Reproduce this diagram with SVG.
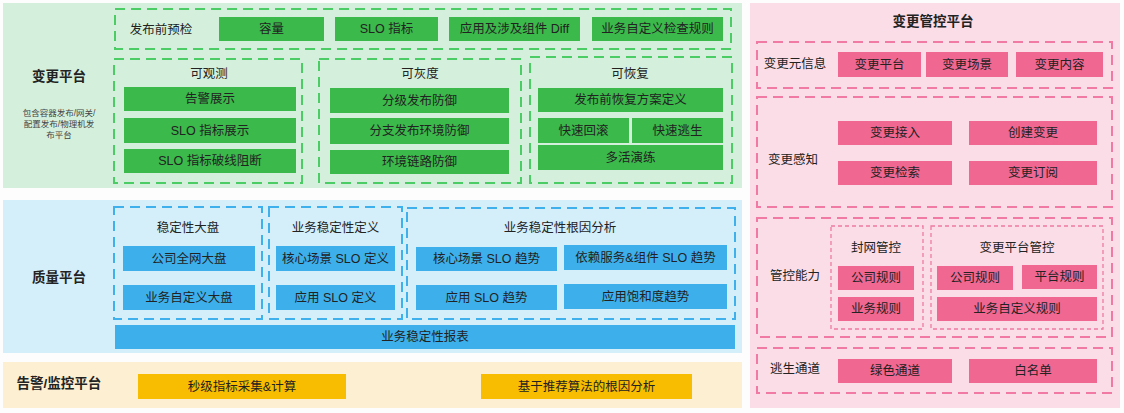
<svg xmlns="http://www.w3.org/2000/svg" width="1124" height="413" viewBox="0 0 1124 413">
<style>
text{font-family:"Liberation Sans","Noto Sans CJK SC",sans-serif;fill:#222;text-anchor:middle;dominant-baseline:central}
.t{font-size:12.5px}
.h{font-size:13.5px;font-weight:bold}
.s{font-size:8.5px;fill:#444}
.gb{fill:#3bb94b}.bb{fill:#3db0ec}.yb{fill:#f8bd00}.pb{fill:#f06792}
.gd{fill:none;stroke:#4ccc65;stroke-width:2;stroke-dasharray:10 6}
.bd{fill:none;stroke:#3fb0ec;stroke-width:2;stroke-dasharray:10 6}
.pd{fill:none;stroke:#f07aa3;stroke-width:2;stroke-dasharray:10 6}
.pt{fill:none;stroke:#f07aa3;stroke-width:1.3;stroke-dasharray:4 3}
</style>
<rect width="1124" height="413" fill="#fdfdfd"/>

<g id="change-platform">
<rect x="3" y="3" width="739" height="185" fill="#d4f0dd"/>
<text class="h" x="59" y="76">变更平台</text>
<text class="s" x="59" y="113">包含容器发布/网关/</text>
<text class="s" x="59" y="124">配置发布/物理机发</text>
<text class="s" x="59" y="135">布平台</text>
</g>
<g id="precheck">
<rect class="gd" x="115" y="9" width="616" height="40"/>
<text class="t" x="161" y="30">发布前预检</text>
<rect class="gb" x="219" y="17" width="105" height="24"/><text class="t" x="271.5" y="29">容量</text>
<rect class="gb" x="335" y="17" width="103" height="24"/><text class="t" x="386.5" y="29">SLO 指标</text>
<rect class="gb" x="449" y="17" width="131" height="24"/><text class="t" x="514.5" y="29">应用及涉及组件 Diff</text>
<rect class="gb" x="592" y="17" width="131" height="24"/><text class="t" x="657.5" y="29">业务自定义检查规则</text>
</g>
<g id="observable">
<rect class="gd" x="114" y="59" width="188" height="124"/>
<text class="t" x="209" y="74">可观测</text>
<rect class="gb" x="124" y="87" width="172" height="24"/><text class="t" x="210" y="99">告警展示</text>
<rect class="gb" x="124" y="118" width="172" height="25"/><text class="t" x="210" y="130.5">SLO 指标展示</text>
<rect class="gb" x="124" y="149" width="172" height="24"/><text class="t" x="210" y="161">SLO 指标破线阻断</text>
</g>
<g id="canary">
<rect class="gd" x="319" y="59" width="202" height="124"/>
<text class="t" x="420" y="74">可灰度</text>
<rect class="gb" x="330" y="88" width="179" height="25"/><text class="t" x="419.5" y="100.5">分级发布防御</text>
<rect class="gb" x="330" y="118" width="179" height="26"/><text class="t" x="419.5" y="131">分支发布环境防御</text>
<rect class="gb" x="330" y="150" width="179" height="24"/><text class="t" x="419.5" y="162">环境链路防御</text>
</g>
<g id="recoverable">
<rect class="gd" x="530" y="57" width="202" height="126"/>
<text class="t" x="630" y="74">可恢复</text>
<rect class="gb" x="538" y="88" width="185" height="24"/><text class="t" x="630.5" y="100">发布前恢复方案定义</text>
<rect class="gb" x="538" y="118" width="91" height="25"/><text class="t" x="583.5" y="130.5">快速回滚</text>
<rect class="gb" x="632" y="118" width="91" height="25"/><text class="t" x="677.5" y="130.5">快速逃生</text>
<rect class="gb" x="538" y="145" width="185" height="25"/><text class="t" x="630.5" y="157.5">多活演练</text>
</g>

<g id="quality-platform">
<rect x="3" y="200" width="739" height="153" fill="#d4eefa"/>
<text class="h" x="59" y="277">质量平台</text>
</g>
<g id="dashboard">
<rect class="bd" x="114" y="207" width="148" height="112"/>
<text class="t" x="188" y="228">稳定性大盘</text>
<rect class="bb" x="123" y="246" width="132" height="25"/><text class="t" x="189" y="258.5">公司全网大盘</text>
<rect class="bb" x="123" y="285" width="132" height="25"/><text class="t" x="189" y="297.5">业务自定义大盘</text>
</g>
<g id="stability-def">
<rect class="bd" x="269" y="207" width="133" height="112"/>
<text class="t" x="335.5" y="228">业务稳定性定义</text>
<rect class="bb" x="276" y="246" width="119" height="25"/><text class="t" x="335.5" y="258.5">核心场景 SLO 定义</text>
<rect class="bb" x="276" y="285" width="119" height="25"/><text class="t" x="335.5" y="297.5">应用 SLO 定义</text>
</g>
<g id="root-cause">
<rect class="bd" x="407" y="208" width="328" height="111"/>
<text class="t" x="560" y="228">业务稳定性根因分析</text>
<rect class="bb" x="416" y="247" width="141" height="24"/><text class="t" x="486.5" y="259">核心场景 SLO 趋势</text>
<rect class="bb" x="564" y="245" width="163" height="25"/><text class="t" x="645.5" y="257.5">依赖服务&amp;组件 SLO 趋势</text>
<rect class="bb" x="416" y="285" width="141" height="25"/><text class="t" x="486.5" y="297.5">应用 SLO 趋势</text>
<rect class="bb" x="564" y="284" width="163" height="25"/><text class="t" x="645.5" y="296.5">应用饱和度趋势</text>
</g>
<g id="report">
<rect class="bb" x="115" y="325" width="620" height="24"/><text class="t" x="425" y="337">业务稳定性报表</text>
</g>

<g id="alert-platform">
<rect x="3" y="362" width="739" height="46" fill="#fdf0d2"/>
<text class="h" x="59" y="383">告警/监控平台</text>
<rect class="yb" x="138" y="374" width="208" height="25"/><text class="t" x="242" y="386.5">秒级指标采集&amp;计算</text>
<rect class="yb" x="481" y="374" width="211" height="25"/><text class="t" x="586.5" y="386.5">基于推荐算法的根因分析</text>
</g>

<g id="change-control">
<rect x="750" y="3" width="370" height="405" fill="#fadde7"/>
<text class="h" x="933" y="21">变更管控平台</text>
</g>
<g id="meta">
<rect class="pd" x="757" y="42" width="355" height="46"/>
<text class="t" x="795" y="64">变更元信息</text>
<rect class="pb" x="838" y="52" width="83" height="25"/><text class="t" x="879.5" y="64.5">变更平台</text>
<rect class="pb" x="926" y="52" width="82" height="25"/><text class="t" x="967" y="64.5">变更场景</text>
<rect class="pb" x="1016" y="52" width="87" height="25"/><text class="t" x="1059.5" y="64.5">变更内容</text>
</g>
<g id="perception">
<rect class="pd" x="757" y="97" width="355" height="110"/>
<text class="t" x="793" y="160">变更感知</text>
<rect class="pb" x="838" y="121" width="114" height="24"/><text class="t" x="895" y="133">变更接入</text>
<rect class="pb" x="969" y="121" width="128" height="24"/><text class="t" x="1033" y="133">创建变更</text>
<rect class="pb" x="838" y="161" width="114" height="24"/><text class="t" x="895" y="173">变更检索</text>
<rect class="pb" x="969" y="161" width="128" height="24"/><text class="t" x="1033" y="173">变更订阅</text>
</g>
<g id="control">
<rect class="pd" x="757" y="218" width="355" height="119"/>
<text class="t" x="795" y="276">管控能力</text>
</g>
<g id="freeze">
<rect class="pt" x="831" y="226" width="92" height="103"/>
<text class="t" x="876" y="248">封网管控</text>
<rect class="pb" x="838" y="266" width="76" height="24"/><text class="t" x="876" y="278">公司规则</text>
<rect class="pb" x="838" y="297" width="76" height="24"/><text class="t" x="876" y="309">业务规则</text>
</g>
<g id="platform-control">
<rect class="pt" x="931" y="226" width="172" height="103"/>
<text class="t" x="1017" y="248">变更平台管控</text>
<rect class="pb" x="937" y="266" width="76" height="24"/><text class="t" x="975" y="278">公司规则</text>
<rect class="pb" x="1022" y="265" width="75" height="24"/><text class="t" x="1059.5" y="277">平台规则</text>
<rect class="pb" x="937" y="297" width="160" height="24"/><text class="t" x="1017" y="309">业务自定义规则</text>
</g>
<g id="escape">
<rect class="pd" x="757" y="348" width="355" height="45"/>
<text class="t" x="795" y="369">逃生通道</text>
<rect class="pb" x="838" y="359" width="114" height="24"/><text class="t" x="895" y="371">绿色通道</text>
<rect class="pb" x="969" y="359" width="128" height="24"/><text class="t" x="1033" y="371">白名单</text>
</g>
<g id="connectors"/>
</svg>
